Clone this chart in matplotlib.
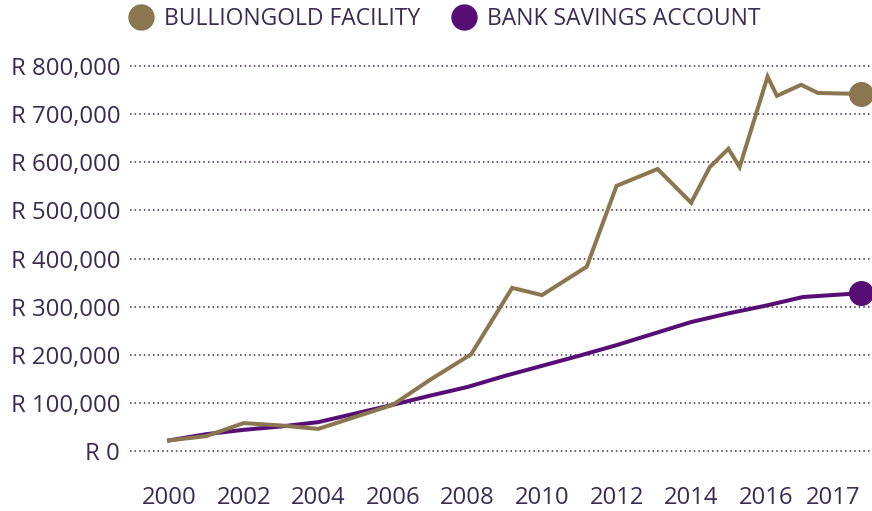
"""BullionGold facility vs bank savings account growth, 2000-2017."""
import matplotlib
matplotlib.use("Agg")
import matplotlib.pyplot as plt
from matplotlib.lines import Line2D

GOLD = "#8A7750"
PURPLE = "#570E74"
TEXT = "#3B2A52"

# values
gold_years = [2000, 2001, 2002, 2003, 2004, 2005, 2006, 2007, 2008.1, 2009.2, 2010,
              2011.2, 2012, 2013.1, 2014, 2014.5, 2015, 2015.3, 2016.05, 2016.3,
              2016.95, 2017.4, 2018.55]
gold_values = [22000, 31000, 58000, 53000, 46000, 71000, 96000, 148000, 201000, 339000,
               324000, 383000, 551000, 586000, 516000, 590000, 628000, 590000, 778000,
               738000, 761000, 744000, 742000]

bank_years = [2000, 2001, 2002, 2003, 2004, 2005, 2006, 2007, 2008, 2009, 2010, 2011,
              2012, 2013, 2014, 2015, 2016, 2017, 2018.55]
bank_values = [22000, 35000, 44000, 51000, 60000, 78000, 96000, 115000, 133000, 156000,
               177000, 198000, 220000, 244000, 268000, 286000, 302000, 320000, 328000]

year_ticks = [2000, 2002, 2004, 2006, 2008, 2010, 2012, 2014, 2016, 2017.8]
year_labels = ["2000", "2002", "2004", "2006", "2008", "2010", "2012", "2014", "2016", "2017"]
value_ticks = [0, 100000, 200000, 300000, 400000, 500000, 600000, 700000, 800000]

plt.rcParams["font.family"] = ["Open Sans", "DejaVu Sans"]

fig = plt.figure(figsize=(8.72, 5.11), dpi=100)
ax = fig.add_axes([0.149, 0.1174, 0.851, 0.7534])

ax.plot(bank_years, bank_values, color=PURPLE, lw=2.9, solid_joinstyle="miter", zorder=3)
ax.plot(gold_years, gold_values, color=GOLD, lw=2.9, solid_joinstyle="miter", zorder=4)
ax.plot(bank_years[-1], bank_values[-1], "o", color=PURPLE, ms=17, clip_on=False, zorder=5)
ax.plot(gold_years[-1], gold_values[-1], "o", color=GOLD, ms=17, clip_on=False, zorder=5)

ax.set_xlim(1998.95, 2018.85)
ax.set_ylim(0, 800000)
ax.set_yticks(value_ticks)
ax.set_yticklabels(["R 0" if v == 0 else f"R {v:,.0f}" for v in value_ticks])
ax.set_xticks(year_ticks)
ax.set_xticklabels(year_labels)
ax.tick_params(axis="both", length=0, labelsize=17.2, labelcolor=TEXT)
ax.tick_params(axis="y", pad=7)
ax.tick_params(axis="x", pad=25)

for v in value_ticks:
    ax.axhline(v, color=TEXT, lw=1.1, ls=(0, (1, 2)), zorder=1, clip_on=False)
for s in ax.spines.values():
    s.set_visible(False)

handles = [
    Line2D([], [], ls="none", marker="o", ms=18, color=GOLD, label="BULLIONGOLD FACILITY"),
    Line2D([], [], ls="none", marker="o", ms=18, color=PURPLE, label="BANK SAVINGS ACCOUNT"),
]
leg = fig.legend(handles=handles, loc="center", bbox_to_anchor=(0.51, 0.962), ncol=2,
                 frameon=False, fontsize=16.5, handletextpad=0.45, columnspacing=1.35,
                 handlelength=1.1)
for t in leg.get_texts():
    t.set_color(TEXT)

fig.savefig("out.png", dpi=100)
plt.close(fig)
